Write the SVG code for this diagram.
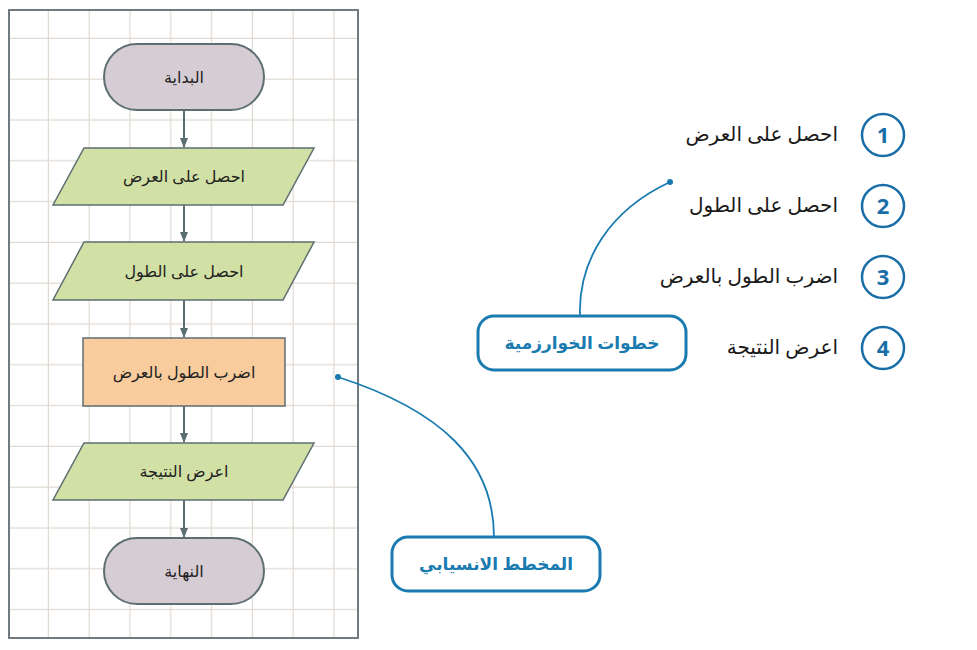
<svg xmlns="http://www.w3.org/2000/svg" width="977" height="650" viewBox="0 0 977 650">
<defs>
<style>
.t{font-family:"Noto Sans","DejaVu Sans",sans-serif;font-size:16px;fill:#222;text-anchor:middle}
.s{font-family:"Noto Sans","DejaVu Sans",sans-serif;font-size:20px;fill:#1a1a1a;text-anchor:end}
.b{font-family:"Noto Sans","DejaVu Sans",sans-serif;font-size:17px;font-weight:bold;fill:#1a7bb0;text-anchor:middle}
.n{font-family:"Noto Sans","DejaVu Sans",sans-serif;font-size:22px;font-weight:bold;fill:#1a6ea8;text-anchor:middle}
.term{fill:#d6ccd3;stroke:#5d6e72;stroke-width:2}
.io{fill:#d1e0a4;stroke:#5d6e72;stroke-width:1.5}
.c{fill:none;stroke:#1a7bb0;stroke-width:1.8}
.box{fill:#fff;stroke:#1a7bb0;stroke-width:3}
.circ{fill:#fff;stroke:#1a6ea8;stroke-width:2.5}
</style>
<pattern id="grid" x="8.2" y="-1.8" width="40.8" height="40.8" patternUnits="userSpaceOnUse">
<path d="M40.8 0V40.8M0 40.8H40.8" stroke="#e0dad2" stroke-width="2.5" fill="none"/>
</pattern>
<marker id="ar" markerWidth="10" markerHeight="8" refX="9" refY="4" orient="auto" markerUnits="userSpaceOnUse">
<path d="M0 0L10 4L0 8z" fill="#5d6e72"/>
</marker>
</defs>
<rect x="0" y="0" width="977" height="650" fill="#fff"/>
<rect x="9" y="10" width="349" height="628" fill="url(#grid)" stroke="#6f7b80" stroke-width="2"/>
<g id="connectors">
<g stroke="#5d6e72" stroke-width="2" marker-end="url(#ar)">
<line x1="184" y1="110" x2="184" y2="147"/>
<line x1="184" y1="205" x2="184" y2="241"/>
<line x1="184" y1="300" x2="184" y2="337"/>
<line x1="184" y1="406" x2="184" y2="442"/>
<line x1="184" y1="500" x2="184" y2="537"/>
</g>
<path class="c" d="M580 316C578 260 610 210 670 182"/>
<circle cx="670" cy="182" r="3" fill="#1a7bb0"/>
<path class="c" d="M494 537C494 460 440 410 338 377"/>
<circle cx="338" cy="377" r="3" fill="#1a7bb0"/>
</g>
<g id="start"><rect class="term" x="104" y="44" width="160" height="66" rx="33"/><text class="t" x="184" y="83">البداية</text></g>
<g id="in1"><polygon class="io" points="84,148 314,148 283,205 53,205"/><text class="t" x="184" y="182">احصل على العرض</text></g>
<g id="in2"><polygon class="io" points="84,242 314,242 283,300 53,300"/><text class="t" x="184" y="277">احصل على الطول</text></g>
<g id="proc"><rect x="83" y="338" width="202" height="68" fill="#f8cc9c" stroke="#5d6e72" stroke-width="1.5"/><text class="t" x="184" y="378">اضرب الطول بالعرض</text></g>
<g id="out"><polygon class="io" points="84,443 314,443 283,500 53,500"/><text class="t" x="184" y="477">اعرض النتيجة</text></g>
<g id="end"><rect class="term" x="104" y="538" width="160" height="66" rx="33"/><text class="t" x="184" y="577">النهاية</text></g>
<g id="steps-label"><rect class="box" x="478" y="316" width="208" height="54" rx="16"/><text class="b" x="582" y="349">خطوات الخوارزمية</text></g>
<g id="flow-label"><rect class="box" x="392" y="537" width="208" height="54" rx="16"/><text class="b" x="496" y="570">المخطط الانسيابي</text></g>
<g id="step1"><circle class="circ" cx="883" cy="135" r="21"/><text class="n" x="883" y="143">1</text><text class="s" x="838" y="141">احصل على العرض</text></g>
<g id="step2"><circle class="circ" cx="883" cy="206" r="21"/><text class="n" x="883" y="214">2</text><text class="s" x="838" y="212">احصل على الطول</text></g>
<g id="step3"><circle class="circ" cx="883" cy="277" r="21"/><text class="n" x="883" y="285">3</text><text class="s" x="838" y="283">اضرب الطول بالعرض</text></g>
<g id="step4"><circle class="circ" cx="883" cy="348" r="21"/><text class="n" x="883" y="356">4</text><text class="s" x="838" y="354">اعرض النتيجة</text></g>
</svg>
